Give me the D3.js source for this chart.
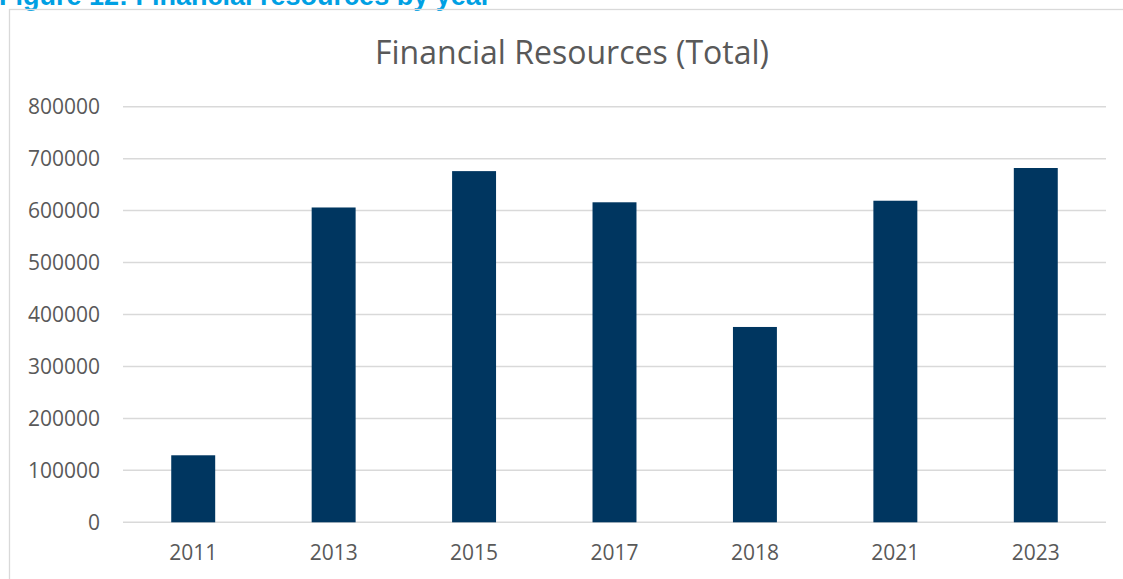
<!DOCTYPE html>
<html>
<head>
<meta charset="utf-8">
<script src="https://cdn.jsdelivr.net/npm/d3@7"></script>
<style>
  body { margin: 0; background: #fff; }
  .axis text { font-family: "Open Sans", sans-serif; font-size: 21px; fill: #595959; }
  .axis .domain, .axis .tick line { display: none; }
</style>
</head>
<body>
<div class="chart"></div>
<script>
// chart data
const years = ["2011", "2013", "2015", "2017", "2018", "2021", "2023"];
const totals = [129000, 606000, 676000, 616000, 376000, 619000, 682000];
const yTicks = [0, 100000, 200000, 300000, 400000, 500000, 600000, 700000, 800000];

const data = years.map((y, i) => ({ year: y, total: totals[i] }));

const W = 1123, H = 579;
const margin = { top: 106.7, right: 17, bottom: 56.7, left: 123 };
const width = W - margin.left - margin.right;
const height = H - margin.top - margin.bottom;

const root = d3.select(".chart")
  .append("svg")
  .attr("width", W)
  .attr("height", H);

// figure caption, cut off at the top edge like in the source page
root.append("text")
  .attr("x", -1)
  .attr("y", 5)
  .style("font-family", "Liberation Sans, Arial, sans-serif")
  .style("font-weight", "bold")
  .style("font-size", "27px")
  .style("fill", "#00a0e3")
  .text("Figure 12: Financial resources by year");

// chart area border
root.append("rect")
  .attr("x", 9.5)
  .attr("y", 9.5)
  .attr("width", W + 20)
  .attr("height", H + 20)
  .attr("fill", "none")
  .attr("stroke", "#d9d9d9")
  .attr("stroke-width", 1.3);

root.append("text")
  .attr("x", 572)
  .attr("y", 64)
  .attr("text-anchor", "middle")
  .style("font-family", "Open Sans, sans-serif")
  .style("font-size", "32px")
  .style("fill", "#595959")
  .text("Financial Resources (Total)");

const svg = root.append("g")
  .attr("transform", "translate(" + margin.left + "," + margin.top + ")");

const xScale = d3.scaleBand()
  .domain(years)
  .range([0, width])
  .paddingInner(0.687)
  .paddingOuter(0.3435);

const yScale = d3.scaleLinear()
  .domain([0, 800000])
  .range([height, 0]);

// gridlines
svg.append("g")
  .selectAll("line")
  .data(yTicks)
  .join("line")
  .attr("x1", 0)
  .attr("x2", width)
  .attr("y1", d => yScale(d))
  .attr("y2", d => yScale(d))
  .attr("stroke", "#d9d9d9")
  .attr("stroke-width", 1.5);

svg.append("g")
  .selectAll("rect")
  .data(data)
  .join("rect")
  .attr("x", d => xScale(d.year))
  .attr("y", d => yScale(d.total))
  .attr("width", xScale.bandwidth())
  .attr("height", d => height - yScale(d.total))
  .attr("fill", "#003660");

const xAxis = d3.axisBottom(xScale).tickSize(0).tickPadding(23);
const yAxis = d3.axisLeft(yScale).tickValues(yTicks).tickFormat(d3.format("d")).tickSize(0).tickPadding(23);

svg.append("g")
  .attr("class", "axis x-axis")
  .attr("transform", `translate(0, ${height})`)
  .call(xAxis);

svg.append("g")
  .attr("class", "axis y-axis")
  .call(yAxis);
</script>
</body>
</html>
